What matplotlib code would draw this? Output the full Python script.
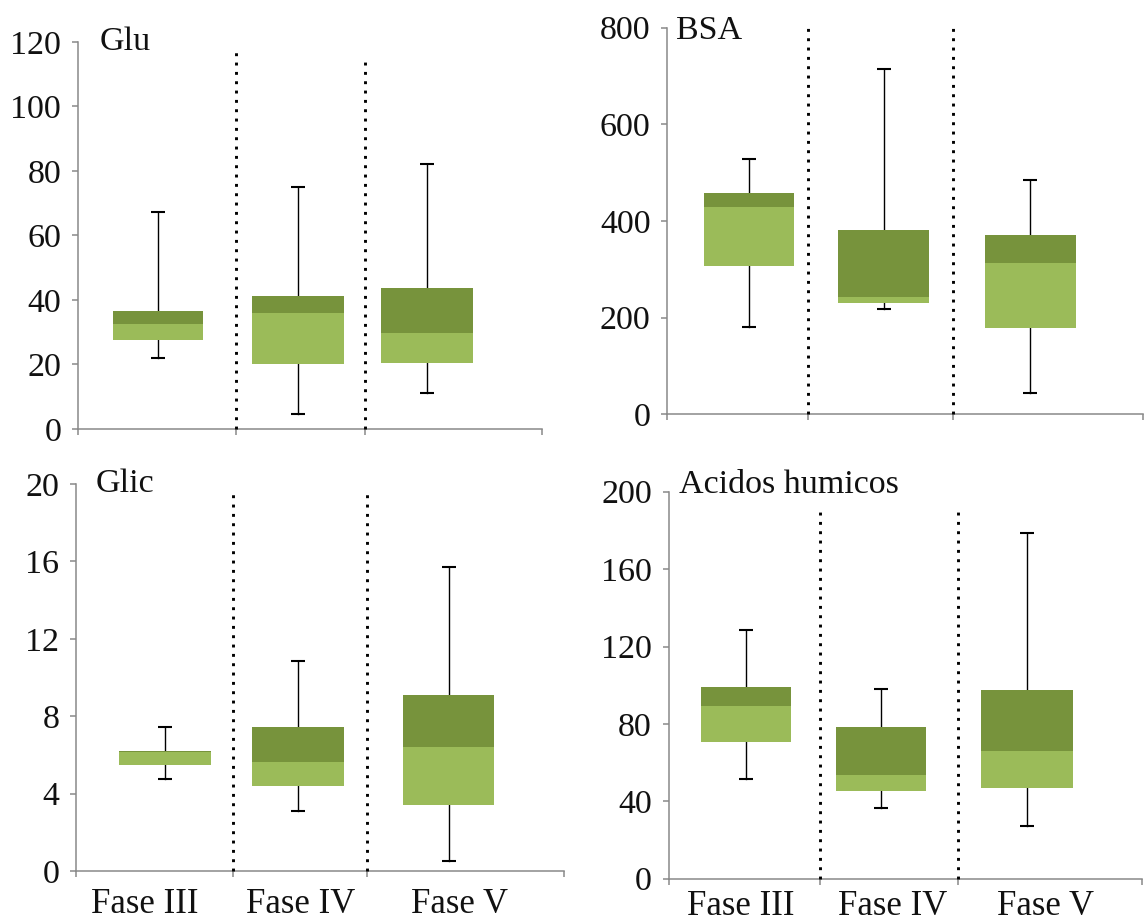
import matplotlib.pyplot as plt

plt.rcParams['font.family'] = ['Liberation Serif', 'DejaVu Serif']

fases = ['Fase III', 'Fase IV', 'Fase V']

# Glu
glu_min = [22.1, 4.5, 11.1]
glu_q1 = [27.5, 20.1, 20.6]
glu_med = [32.5, 35.9, 29.9]
glu_q3 = [36.7, 41.3, 43.8]
glu_max = [67.2, 75.1, 82.2]

# BSA
bsa_min = [181.3, 217.2, 43.4]
bsa_q1 = [306.8, 229.7, 179.2]
bsa_med = [429.6, 243.3, 312.4]
bsa_q3 = [458.5, 381.3, 371.6]
bsa_max = [527.6, 714.5, 484.8]

# Glic
glic_min = [4.75, 3.10, 0.52]
glic_q1 = [5.48, 4.39, 3.41]
glic_med = [6.15, 5.62, 6.39]
glic_q3 = [6.20, 7.46, 9.11]
glic_max = [7.43, 10.84, 15.7]

# Acidos humicos
ah_min = [51.5, 36.5, 27.4]
ah_q1 = [70.5, 45.3, 47.0]
ah_med = [89.3, 53.6, 66.1]
ah_q3 = [99.2, 78.6, 97.5]
ah_max = [128.4, 98.2, 178.5]

verde_claro = '#9bbb59'
verde_escuro = '#77933c'
cinza = '#898989'

fig = plt.figure(figsize=(11.45, 9.22), dpi=100)
W, H = 1145, 922


def eixo(left, right, zero, top):
    return fig.add_axes([left / W, (H - zero) / H, (right - left) / W, (zero - top) / H])


paineis = [
    dict(ax=eixo(77.8, 541.9, 429, 42), titulo='Glu', tx=0.048, ty=0.979,
         ymax=120, passo=20, pos=[0.518, 1.422, 2.260], larg=[0.582, 0.594, 0.594],
         div=[1.022, 1.856], div_top=[116.8, 115.4],
         dados=(glu_min, glu_q1, glu_med, glu_q3, glu_max), rotulos=None),
    dict(ax=eixo(667.4, 1143, 414.3, 27.7), titulo='BSA', tx=0.019, ty=0.970,
         ymax=800, passo=200, pos=[0.515, 1.364, 2.290], larg=[0.568, 0.572, 0.575],
         div=[0.884, 1.800], div_top=[805, 805],
         dados=(bsa_min, bsa_q1, bsa_med, bsa_q3, bsa_max), rotulos=None),
    dict(ax=eixo(75.9, 564.1, 871, 484), titulo='Glic', tx=0.040, ty=0.980,
         ymax=20, passo=4, pos=[0.549, 1.364, 2.290], larg=[0.564, 0.564, 0.564],
         div=[0.967, 1.787], div_top=[19.6, 19.5],
         dados=(glic_min, glic_q1, glic_med, glic_q3, glic_max),
         rotulos=[0.421, 1.382, 2.360], rot_off=-30),
    dict(ax=eixo(668.5, 1141.7, 878.7, 491.7), titulo='Acidos humicos', tx=0.023, ty=0.996,
         ymax=200, passo=40, pos=[0.493, 1.346, 2.273], larg=[0.571, 0.571, 0.583],
         div=[0.960, 1.834], div_top=[190.5, 191.4],
         dados=(ah_min, ah_q1, ah_med, ah_q3, ah_max),
         rotulos=[0.457, 1.421, 2.388], rot_off=-26),
]

for p in paineis:
    ax = p['ax']
    vmin, q1, med, q3, vmax = p['dados']

    for i in range(3):
        x = p['pos'][i]
        # bigode: linha do minimo ao maximo, por tras da caixa
        ax.plot([x, x], [vmin[i], vmax[i]], color='black', lw=1.0, zorder=1)
        ax.plot([x, x], [vmin[i], vmax[i]], linestyle='none', marker='_',
                ms=9.5, mew=1.5, color='black', zorder=1)
        # caixa em duas partes: Q1-mediana e mediana-Q3
        ax.bar(x, med[i] - q1[i], bottom=q1[i], width=p['larg'][i],
               color=verde_claro, zorder=2)
        ax.bar(x, q3[i] - med[i], bottom=med[i], width=p['larg'][i],
               color=verde_escuro, zorder=2)

    for xd, yt in zip(p['div'], p['div_top']):
        ax.plot([xd, xd], [0, yt], color='black', lw=2.1,
                linestyle=(0, (1, 2.2)), zorder=3, clip_on=False)

    ax.set_xlim(0, 3)
    ax.set_ylim(0, p['ymax'])
    ax.set_yticks(range(0, p['ymax'] + 1, p['passo']))
    ax.set_xticks([0] + p['div'] + [3])
    ax.set_xticklabels([])

    for lado in ['top', 'right']:
        ax.spines[lado].set_visible(False)
    for lado in ['left', 'bottom']:
        ax.spines[lado].set_color(cinza)
        ax.spines[lado].set_linewidth(1.1)
    ax.tick_params(axis='both', direction='out', length=4.5, width=1.1,
                   color=cinza, labelsize=24.5, labelcolor='#111111')
    ax.tick_params(axis='y', pad=7.5)
    ax.patch.set_visible(False)

    ax.text(p['tx'], p['ty'], p['titulo'], transform=ax.transAxes,
            ha='left', va='baseline', fontsize=24.5, color='#111111')

    if p['rotulos']:
        for xr, nome in zip(p['rotulos'], fases):
            ax.annotate(nome, xy=(xr, 0), xycoords=ax.get_xaxis_transform(),
                        xytext=(0, p['rot_off']), textcoords='offset points',
                        ha='center', va='baseline', fontsize=25, color='#111111')

fig.savefig('out.png', dpi=100)
